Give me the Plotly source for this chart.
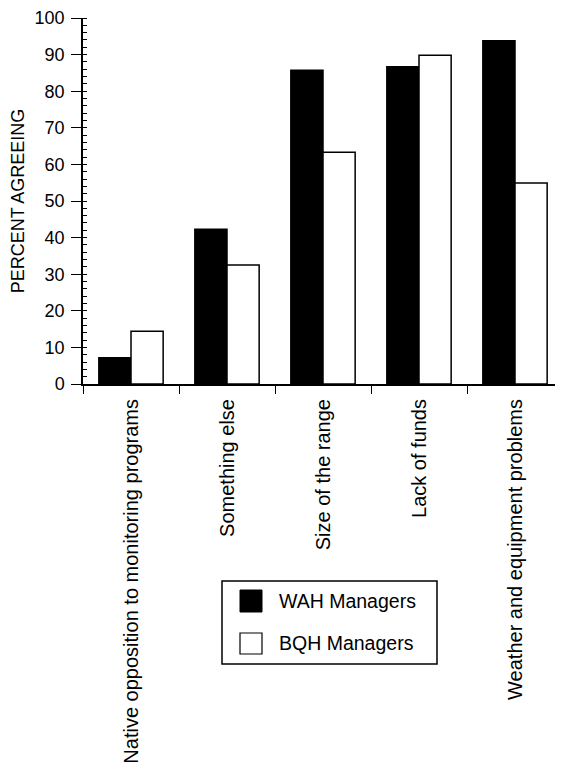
import plotly.graph_objects as go

categories = [
    "Native opposition to monitoring programs",
    "Something else",
    "Size of the range",
    "Lack of funds",
    "Weather and equipment problems",
]
wah_values = [7.2, 42.3, 85.7, 86.7, 93.8]
bqh_values = [14.4, 32.5, 63.3, 89.8, 54.9]
series_names = ["WAH Managers", "BQH Managers"]
y_ticks = [0, 10, 20, 30, 40, 50, 60, 70, 80, 90, 100]

OFF = 8  # default page body margin
W, H = 563 - OFF, 771 - OFF
# plot area in window pixels: x 83..563, y 18..384
L, R, T = 83 - OFF, 0, 18 - OFF
B = H - (384 - OFF)
PW = W - L - R
PH = H - T - B

def px(x):
    return (x - OFF - L) / PW

def py(y):
    return (H - B - (y - OFF)) / PH

FONT = "Liberation Sans, Arial, Helvetica, sans-serif"

fig = go.Figure()
fig.add_trace(go.Bar(
    x=categories, y=wah_values, name=series_names[0],
    marker=dict(color="black", line=dict(color="black", width=1.5)),
    showlegend=False,
))
fig.add_trace(go.Bar(
    x=categories, y=bqh_values, name=series_names[1],
    marker=dict(color="white", line=dict(color="black", width=1.5)),
    showlegend=False,
))

fig.update_layout(
    width=W, height=H, autosize=False,
    margin=dict(l=L, r=R, t=T, b=B, pad=0),
    plot_bgcolor="white", paper_bgcolor="white",
    barmode="group", bargap=0.33, bargroupgap=0,
    font=dict(family=FONT, color="black"),
    showlegend=False,
)
fig.update_xaxes(
    range=[-0.5, 4.5], showline=True, linecolor="black", linewidth=2,
    ticks="outside", tickson="boundaries", ticklen=8, tickwidth=1.2, tickcolor="black",
    tickangle=-90, tickfont=dict(size=20, family=FONT, color="black"),
    ticklabelstandoff=5,
    showgrid=False, zeroline=False, automargin=False,
)
fig.update_yaxes(
    range=[0, 100], tickvals=y_ticks, ticktext=[str(v) for v in y_ticks],
    showline=True, linecolor="black", linewidth=1.5,
    ticks="outside", ticklen=10, tickwidth=1.2, tickcolor="black",
    tickfont=dict(size=18, family=FONT, color="black"),
    ticklabelstandoff=3,
    minor=dict(dtick=2, ticks="inside", ticklen=4, tickwidth=1, tickcolor="black"),
    showgrid=False, zeroline=False, automargin=False,
    title=dict(text="PERCENT AGREEING", font=dict(size=18, family=FONT, color="black"), standoff=6),
)

# Manual legend
fig.add_shape(type="rect", xref="paper", yref="paper",
              x0=px(222), x1=px(437), y0=py(581), y1=py(664),
              line=dict(color="black", width=1.5), fillcolor="white")
fig.add_shape(type="rect", xref="paper", yref="paper",
              x0=px(240), x1=px(262), y0=py(590), y1=py(612),
              line=dict(color="black", width=1), fillcolor="black")
fig.add_shape(type="rect", xref="paper", yref="paper",
              x0=px(240), x1=px(262), y0=py(633), y1=py(654),
              line=dict(color="black", width=1.2), fillcolor="white")
for name, yc in zip(series_names, [601, 643]):
    fig.add_annotation(xref="paper", yref="paper", x=px(277), y=py(yc),
                       text=name, showarrow=False, xanchor="left", yanchor="middle",
                       font=dict(size=19.5, family=FONT, color="black"))

fig.write_html("out.html")
